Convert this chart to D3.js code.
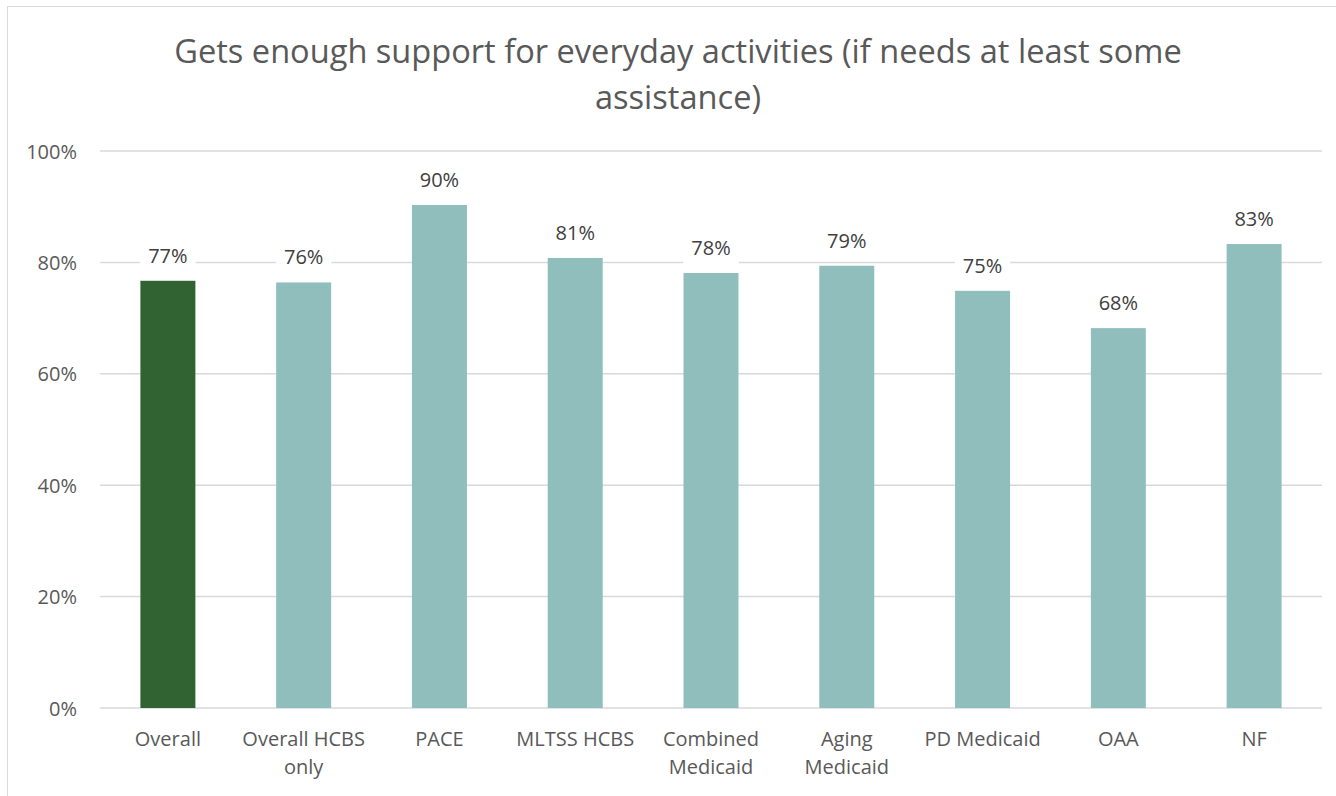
<!DOCTYPE html>
<html>
<head>
<meta charset="utf-8">
<script src="https://cdn.jsdelivr.net/npm/d3@7"></script>
<style>
  html, body { margin: 0; padding: 0; background: #fff; }
  svg { display: block; font-family: "Open Sans", sans-serif; }
</style>
</head>
<body>
<svg id="chart" width="1336" height="796"></svg>
<script>
const titleText = "Gets enough support for everyday activities (if needs at least some assistance)";
const categories = ["Overall", "Overall HCBS only", "PACE", "MLTSS HCBS", "Combined Medicaid", "Aging Medicaid", "PD Medicaid", "OAA", "NF"];
const values = [0.767, 0.764, 0.903, 0.808, 0.781, 0.794, 0.749, 0.682, 0.833];
const yTicks = [0, 0.2, 0.4, 0.6, 0.8, 1.0];
const barColors = ["#306232", "#8FBEBD", "#8FBEBD", "#8FBEBD", "#8FBEBD", "#8FBEBD", "#8FBEBD", "#8FBEBD", "#8FBEBD"];

const W = 1336, H = 796;
const margin = { left: 100, right: 14, top: 151, bottom: 88 };
const svg = d3.select("#chart");

// outer border
svg.append("rect").attr("x", 7.5).attr("y", 6.5).attr("width", W + 10).attr("height", H + 10)
  .attr("fill", "#fff").attr("stroke", "#D9D9D9").attr("stroke-width", 1);

const x = d3.scaleBand().domain(categories).range([margin.left, W - margin.right])
  .paddingInner(0.595).paddingOuter(0.2975);
const y = d3.scaleLinear().domain([0, 1]).range([H - margin.bottom, margin.top]);

// gridlines
svg.append("g").selectAll("line").data(yTicks).join("line")
  .attr("x1", margin.left).attr("x2", W - margin.right)
  .attr("y1", d => y(d)).attr("y2", d => y(d))
  .attr("stroke", "#D9D9D9").attr("stroke-width", 1.5);

// y axis
const yAxis = d3.axisLeft(y).tickValues(yTicks).tickFormat(d3.format(".0%")).tickSize(0).tickPadding(23);
const yg = svg.append("g").attr("transform", `translate(${margin.left},0)`).call(yAxis);
yg.select(".domain").remove();
yg.selectAll("text").attr("font-size", 20).attr("fill", "#595959")
  .attr("font-family", "'Open Sans', sans-serif").attr("dy", "0.35em");

// bars
svg.append("g").selectAll("rect").data(categories).join("rect")
  .attr("x", d => x(d)).attr("width", x.bandwidth())
  .attr("y", (d, i) => y(values[i])).attr("height", (d, i) => y(0) - y(values[i]))
  .attr("fill", (d, i) => barColors[i]);

// data labels with white background
const fmt = d3.format(".0%");
const lg = svg.append("g");
categories.forEach((c, i) => {
  const cx = x(c) + x.bandwidth() / 2;
  const by = y(values[i]) - 18;
  const g = lg.append("g");
  const bg = g.append("rect").attr("fill", "#fff");
  const t = g.append("text").attr("x", cx).attr("y", by).attr("text-anchor", "middle")
    .attr("font-size", 20).attr("fill", "#404040").text(fmt(values[i]));
  const bb = t.node().getBBox();
  bg.attr("x", bb.x - 8).attr("y", bb.y - 3).attr("width", bb.width + 16).attr("height", bb.height + 6);
});

// x axis labels
const xAxis = d3.axisBottom(x).tickSize(0).tickPadding(24);
const xg = svg.append("g").attr("transform", `translate(0,${y(0)})`).call(xAxis);
xg.select(".domain").remove();
xg.selectAll("text").attr("font-size", 20).attr("fill", "#595959")
  .attr("font-family", "'Open Sans', sans-serif")
  .each(function () { wrap(d3.select(this), x.step() - 4, 28); });

function wrap(text, width, lh) {
  const words = text.text().split(/\s+/);
  const xx = text.attr("x") || 0;
  const dy = text.attr("dy");
  text.text(null);
  let line = [];
  let tspan = text.append("tspan").attr("x", xx);
  let lines = [tspan];
  words.forEach(w => {
    line.push(w);
    tspan.text(line.join(" "));
    if (tspan.node().getComputedTextLength() > width && line.length > 1) {
      line.pop();
      tspan.text(line.join(" "));
      line = [w];
      tspan = text.append("tspan").attr("x", xx).text(w);
      lines.push(tspan);
    }
  });
  lines.forEach((ts, k) => ts.attr("dy", k === 0 ? dy : lh + "px"));
}

// title
const title = svg.append("text").attr("x", 678).attr("y", 63).attr("text-anchor", "middle")
  .attr("font-size", 32.6).attr("fill", "#595959").text(titleText);
(function () {
  const words = titleText.split(" ");
  title.text(null);
  let line = [];
  let ts = title.append("tspan").attr("x", 678).attr("dy", 0);
  words.forEach(w => {
    line.push(w);
    ts.text(line.join(" "));
    if (ts.node().getComputedTextLength() > 1040 && line.length > 1) {
      line.pop(); ts.text(line.join(" "));
      line = [w];
      ts = title.append("tspan").attr("x", 678).attr("dy", 46).text(w);
    }
  });
})();
</script>
</body>
</html>
